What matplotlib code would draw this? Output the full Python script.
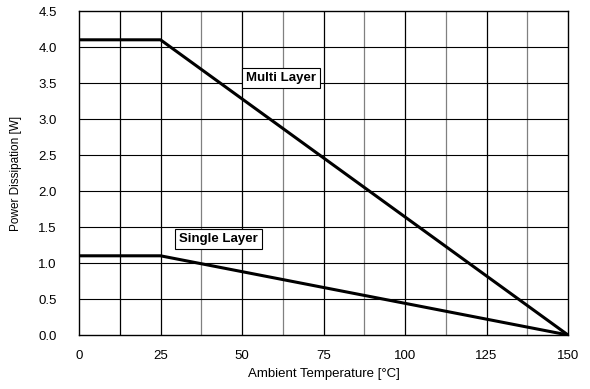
import matplotlib.pyplot as plt
import numpy as np

# derating curves (ambient temperature in degC, power in W)
temp = [0, 25, 150]
multi_layer = [4.1, 4.1, 0.0]
single_layer = [1.1, 1.1, 0.0]

x_ticks = [0, 25, 50, 75, 100, 125, 150]
y_ticks = [0.0, 0.5, 1.0, 1.5, 2.0, 2.5, 3.0, 3.5, 4.0, 4.5]

plt.rcParams['font.family'] = ['Liberation Sans', 'DejaVu Sans']

fig = plt.figure(figsize=(5.9, 3.89), dpi=100)
ax = fig.add_axes([79 / 590, 1 - 335 / 389, 489 / 590, 324 / 389])

ax.set_xlim(0, 150)
ax.set_ylim(0, 4.5)

# grid: full steps black, the odd half steps grey
for x in np.arange(12.5, 150, 12.5):
    col = '#808080' if (x / 12.5) % 2 == 1 and x > 25 else 'black'
    ax.axvline(x, color=col, lw=0.9, zorder=1)
for y in y_ticks[1:-1]:
    ax.axhline(y, color='black', lw=0.8, zorder=1)

ax.plot(temp, multi_layer, color='black', lw=2.2, zorder=3)
ax.plot(temp, single_layer, color='black', lw=2.2, zorder=3)

box = dict(boxstyle='square,pad=0.3', fc='white', ec='black', lw=0.8)
ax.text(62, 3.57, 'Multi Layer', ha='center', va='center', fontsize=9.5,
        fontweight='bold', bbox=box, zorder=4)
ax.text(42.7, 1.33, 'Single Layer', ha='center', va='center', fontsize=9.5,
        fontweight='bold', bbox=box, zorder=4)

ax.set_xticks(x_ticks)
ax.set_yticks(y_ticks)
ax.set_xticklabels([str(t) for t in x_ticks])
ax.set_yticklabels(['%.1f' % t for t in y_ticks])
ax.tick_params(length=0, labelsize=9.5)
ax.tick_params(axis='x', pad=11)
ax.tick_params(axis='y', pad=16)

for s in ax.spines.values():
    s.set_linewidth(1.0)

ax.set_xlabel('Ambient Temperature [°C]', fontsize=9.5, labelpad=4)
ax.set_ylabel('Power Dissipation [W]', fontsize=8.5, labelpad=12)

fig.savefig('out.png', dpi=100)
